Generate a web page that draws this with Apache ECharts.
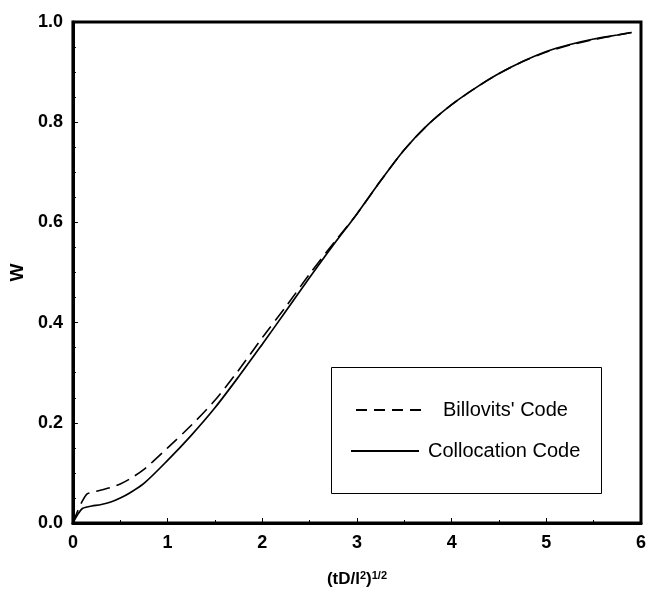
<!DOCTYPE html>
<html>
<head>
<meta charset="utf-8">
<script src="https://cdn.jsdelivr.net/npm/echarts@6/dist/echarts.min.js"></script>
<style>
  html, body { margin: 0; padding: 0; background: #fff; }
  #chart { width: 649px; height: 593px; }
</style>
</head>
<body>
<div id="chart"></div>
<script>
// Dimensionless time (tD/l^2)^(1/2) sample points
const xValues = [0, 0.05, 0.1, 0.15, 0.2, 0.3, 0.4, 0.5, 0.6, 0.75, 1.0, 1.25, 1.5, 1.75, 2.0, 2.25, 2.5, 2.75, 3.0, 3.25, 3.5, 3.75, 4.0, 4.25, 4.5, 4.75, 5.0, 5.25, 5.5, 5.75, 5.9];

// W computed by Billovits' code
const billovits = [0, 0.024, 0.044, 0.058, 0.061, 0.066, 0.071, 0.078, 0.088, 0.107, 0.15, 0.195, 0.245, 0.305, 0.37, 0.432, 0.497, 0.558, 0.617, 0.683, 0.745, 0.795, 0.835, 0.868, 0.897, 0.921, 0.94, 0.954, 0.965, 0.974, 0.979];

// W computed by the collocation code
const collocation = [0, 0.017, 0.029, 0.032, 0.034, 0.037, 0.042, 0.05, 0.06, 0.079, 0.125, 0.175, 0.23, 0.292, 0.357, 0.423, 0.49, 0.555, 0.617, 0.683, 0.745, 0.795, 0.835, 0.868, 0.897, 0.921, 0.941, 0.955, 0.966, 0.974, 0.979];

const seriesNames = ["Billovits' Code", 'Collocation Code'];

const pairs = (ys) => xValues.map((x, i) => [x, ys[i]]);

const font = 'Liberation Sans, Arial, Helvetica, sans-serif';

const legendText = (padLeft) => ({
  fontFamily: font, fontSize: 20, color: '#000', padding: [0, 0, 0, padLeft]
});

const chart = echarts.init(document.getElementById('chart'), null, { renderer: 'canvas' });

chart.setOption({
  animation: false,
  backgroundColor: '#fff',
  grid: {
    left: 63, right: 8, top: 22, bottom: 62,
    show: true, borderColor: '#000', borderWidth: 3, backgroundColor: 'transparent'
  },
  // frame around the key
  graphic: [{
    type: 'rect', z: 3,
    shape: { x: 331.5, y: 367.5, width: 270, height: 126 },
    style: { fill: '#fff', stroke: '#000', lineWidth: 1 }
  }],
  legend: [
    {
      data: [seriesNames[0]],
      left: 355, top: 400, padding: 0,
      itemWidth: 65, itemHeight: 14,
      itemStyle: { opacity: 0 },
      lineStyle: { type: [11, 7] },
      textStyle: legendText(17),
      z: 5
    },
    {
      data: [seriesNames[1]],
      left: 350, top: 441, padding: 0,
      itemWidth: 68, itemHeight: 14,
      itemStyle: { opacity: 0 },
      textStyle: legendText(4),
      z: 5
    }
  ],
  xAxis: {
    type: 'value', min: 0, max: 6, interval: 1,
    name: '{b|(tD/l}{s|2}{b|)}{s|1/2}',
    nameLocation: 'middle', nameGap: 47,
    nameTextStyle: {
      rich: {
        b: { fontFamily: font, fontWeight: 'bold', fontSize: 17, color: '#000', verticalAlign: 'bottom' },
        s: { fontFamily: font, fontWeight: 'bold', fontSize: 11, color: '#000', verticalAlign: 'top', padding: [0, 0, 7, 0] }
      }
    },
    axisLine: { show: true, lineStyle: { color: '#000', width: 3 } },
    axisTick: { show: true, inside: true, length: 5, lineStyle: { color: '#000', width: 1 } },
    minorTick: { show: true, splitNumber: 2, length: 3, lineStyle: { color: '#000', width: 1 } },
    axisLabel: { fontFamily: font, fontWeight: 'bold', fontSize: 18, color: '#000', margin: 11 },
    splitLine: { show: false }
  },
  yAxis: {
    type: 'value', min: 0, max: 1, interval: 0.2,
    name: 'W', nameLocation: 'middle', nameGap: 44, nameRotate: 90,
    nameTextStyle: { fontFamily: font, fontWeight: 'bold', fontSize: 19, color: '#000' },
    axisLine: { show: true, lineStyle: { color: '#000', width: 3 } },
    axisTick: { show: true, inside: true, length: 5, lineStyle: { color: '#000', width: 1 } },
    minorTick: { show: true, splitNumber: 4, length: 3, lineStyle: { color: '#000', width: 1 } },
    axisLabel: {
      fontFamily: font, fontWeight: 'bold', fontSize: 18, color: '#000', margin: 10,
      formatter: (v) => v.toFixed(1)
    },
    splitLine: { show: false }
  },
  series: [
    {
      name: seriesNames[0], type: 'line', data: pairs(billovits),
      showSymbol: false, symbol: 'none', smooth: 0.3,
      lineStyle: { color: '#000', width: 1.6, type: [14, 7] },
      itemStyle: { color: '#000' }
    },
    {
      name: seriesNames[1], type: 'line', data: pairs(collocation),
      showSymbol: false, symbol: 'none', smooth: 0.3,
      lineStyle: { color: '#000', width: 1.7, type: 'solid' },
      itemStyle: { color: '#000' }
    }
  ]
});
</script>
</body>
</html>
